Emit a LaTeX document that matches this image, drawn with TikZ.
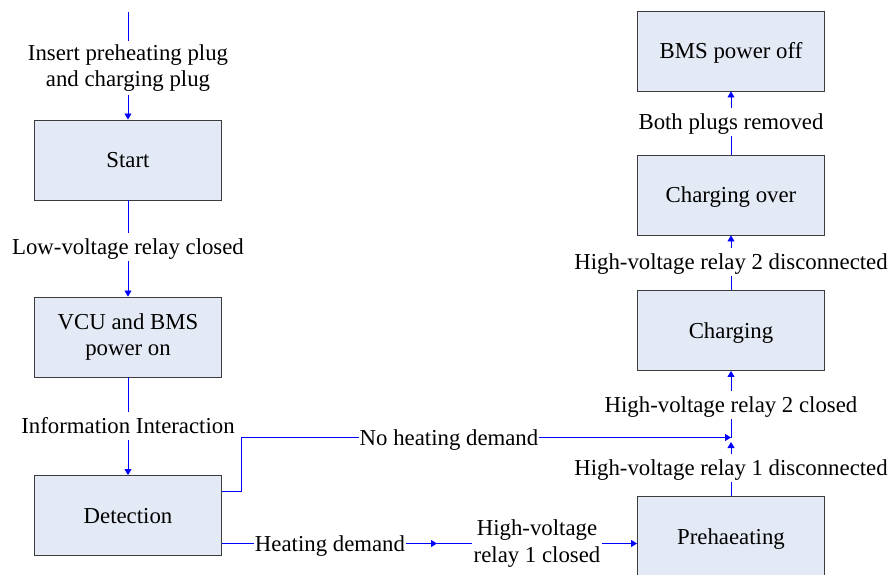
\documentclass[tikz,border=0pt]{standalone}
\usepackage{fontspec}
\setmainfont{Liberation Serif}
\usetikzlibrary{arrows.meta}
\definecolor{boxfill}{RGB}{227,234,245}
\definecolor{boxline}{RGB}{60,60,60}
\begin{document}
\begin{tikzpicture}[x=1pt,y=-1pt,
  font=\fontsize{22.8}{26.7}\selectfont,
  boxbase/.style={draw=boxline, fill=boxfill, line width=0.9pt, minimum width=187pt, minimum height=80pt, align=center, inner sep=0pt},
  state/.style={boxbase, text height=20.3pt, text depth=4.9pt},
  state2/.style={boxbase},
  lbl/.style={align=center, inner xsep=1pt, inner ysep=1pt, text height=20.3pt, text depth=4.9pt},
  lbl2/.style={align=center, inner xsep=1pt, inner ysep=3pt},
  conn/.style={blue, line width=0.8pt},
  arr/.style={conn, -{Triangle[length=6pt,width=7pt]}}]
\useasboundingbox (0,0) rectangle (889,575);
\begin{scope}
\clip (0,0) rectangle (889,575);
% states
\node[state] (start) at (128,160) {Start};
\node[state2] (vcu) at (128,337) {VCU and BMS\\power on};
\node[state] (det) at (128,515.5) {Detection};
\node[state] (pre) at (731,536.5) {Prehaeating};
\node[state] (chg) at (731,330.5) {Charging};
\node[state] (over) at (731,195) {Charging over};
\node[state] (off) at (731,51) {BMS power off};
% labels
\node[lbl2] (l1) at (128,68) {Insert preheating plug\\and charging plug};
\node[lbl] (l2) at (128,247) {Low-voltage relay closed};
\node[lbl] (l3) at (128,426) {Information Interaction};
\node[lbl] (nh) at (449,437.5) {No heating demand};
\node[lbl] (hd) at (330,543.5) {Heating demand};
\node[lbl2] (hv1) at (537,543.5) {High-voltage\\relay 1 closed};
\node[lbl] (r1) at (731,468) {High-voltage relay 1 disconnected};
\node[lbl] (r2) at (731,405) {High-voltage relay 2 closed};
\node[lbl] (r3) at (731,262) {High-voltage relay 2 disconnected};
\node[lbl] (r4) at (731,122) {Both plugs removed};
% coordinates
\coordinate (top) at (128,12);
\coordinate (J) at (731,437.5);
\coordinate (Jb) at (731,442);
\coordinate (m) at (437,543.5);
% connectors
\draw[conn] (top) -- (l1.north);
\draw[arr] (l1.south) -- (start.north);
\draw[conn] (start.south) -- (l2.north);
\draw[arr] (l2.south) -- (vcu.north);
\draw[conn] (vcu.south) -- (l3.north);
\draw[arr] (l3.south) -- (det.north);
\draw[conn] ([yshift=24.5pt]det.east) -- ++(19,0) |- (nh.west);
\draw[arr] (nh.east) -- (J);
\draw[conn] ([yshift=-28pt]det.east) -- (hd.west);
\draw[arr] (hd.east) -- (m);
\draw[conn] (m) -- (hv1.west);
\draw[arr] (hv1.east) -- (pre.west |- hv1.east);
\draw[conn] (pre.north) -- (r1.south);
\draw[arr] (r1.north) -- (Jb);
\draw[conn] (J) -- (r2.south);
\draw[arr] (r2.north) -- (chg.south);
\draw[conn] (chg.north) -- (r3.south);
\draw[arr] (r3.north) -- (over.south);
\draw[conn] (over.north) -- (r4.south);
\draw[arr] (r4.north) -- (off.south);
\end{scope}
\end{tikzpicture}
\end{document}
